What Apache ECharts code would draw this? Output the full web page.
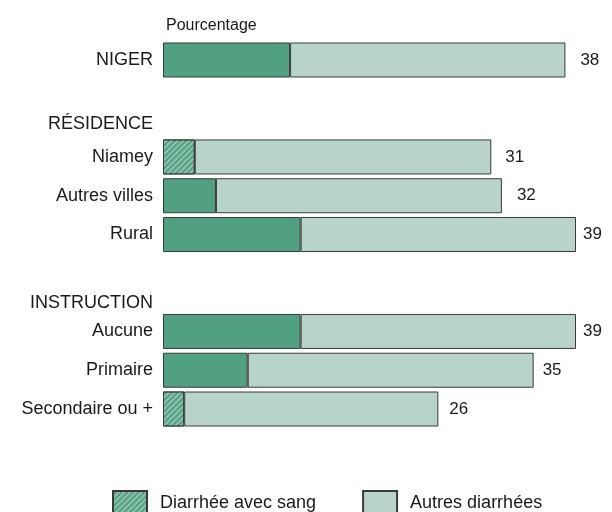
<!DOCTYPE html>
<html>
<head>
<meta charset="utf-8">
<script src="https://cdn.jsdelivr.net/npm/echarts@6/dist/echarts.min.js"></script>
<style>html,body{margin:0;padding:0;background:#fff;}#c{width:612px;height:512px;}</style>
</head>
<body>
<div id="c"></div>
<script>
// ---- data ----
const categories = ['NIGER', 'Niamey', 'Autres villes', 'Rural', 'Aucune', 'Primaire', 'Secondaire ou +'];
const groupHeaders = ['RÉSIDENCE', 'INSTRUCTION'];
const bloodyDiarrhea = [12, 3, 5, 13, 13, 8, 2];
const otherDiarrhea = [26, 28, 27, 26, 26, 27, 24];
const totalLabels = [38, 31, 32, 39, 39, 35, 26];
const hatchedCategories = ['Niamey', 'Secondaire ou +'];
const seriesNames = ['Diarrhée avec sang', 'Autres diarrhées'];

// ---- layout (row slots, spacing between label and bar end) ----
const rowSlots = ['NIGER', '_1', '_2', 'RÉSIDENCE', '_3', 'Niamey', '_4', 'Autres villes', '_5', 'Rural',
  '_6', '_7', 'INSTRUCTION', '_8', 'Aucune', '_9', 'Primaire', '_10', 'Secondaire ou +'];
const labelGap = [15, 14, 15, 7, 7, 9, 11];

const DARK = '#52a082';
const LIGHT = '#b8d4ca';
const BORDER = '#3a3a3a';
const FONT = 'Liberation Sans, Arial, sans-serif';
const hatch = {
  symbol: 'rect', symbolSize: 1, dashArrayX: [1, 0], dashArrayY: [1.5, 2],
  rotation: -Math.PI / 4, color: 'rgba(255,255,255,0.35)'
};

const darkData = rowSlots.map(s => {
  const i = categories.indexOf(s);
  if (i < 0) return '-';
  const item = { value: bloodyDiarrhea[i] };
  if (hatchedCategories.includes(s)) item.itemStyle = { decal: hatch };
  return item;
});
const lightData = rowSlots.map(s => {
  const i = categories.indexOf(s);
  if (i < 0) return '-';
  return { value: otherDiarrhea[i], label: { distance: labelGap[i], formatter: String(totalLabels[i]) } };
});

const chart = echarts.init(document.getElementById('c'), null, { renderer: 'canvas' });
chart.setOption({
  animation: false,
  backgroundColor: '#fff',
  textStyle: { fontFamily: FONT },
  title: {
    text: 'Pourcentage', left: 161, top: 13,
    textStyle: { fontSize: 16, fontWeight: 'normal', color: '#1a1a1a', fontFamily: FONT }
  },
  legend: {
    left: 107, top: 485, itemWidth: 34, itemHeight: 25, itemGap: 46,
    icon: 'rect',
    textStyle: { fontSize: 18, color: '#1a1a1a', fontFamily: FONT, padding: [0, 0, 0, 8] },
    data: [
      { name: seriesNames[0], itemStyle: { decal: hatch } },
      { name: seriesNames[1] }
    ]
  },
  grid: { left: 163, right: 25.4, top: 50.3, bottom: 93.3, containLabel: false },
  xAxis: { type: 'value', min: 0, max: 40, show: false },
  yAxis: {
    type: 'category', inverse: true, data: rowSlots,
    axisLine: { show: false }, axisTick: { show: false }, splitLine: { show: false },
    axisLabel: {
      margin: 10, fontSize: 18, color: '#1a1a1a', fontFamily: FONT, interval: 0,
      formatter: v => {
        if (v.charAt(0) === '_') return '';
        if (v === groupHeaders[0]) return '{h1|' + v + '}';
        if (v === groupHeaders[1]) return '{h2|' + v + '}';
        return v;
      },
      rich: {
        h1: { fontSize: 18, color: '#1a1a1a', fontFamily: FONT, padding: [12, 0, 0, 0] },
        h2: { fontSize: 18, color: '#1a1a1a', fontFamily: FONT, padding: [20, 0, 0, 0] }
      }
    }
  },
  series: [
    {
      name: seriesNames[0], type: 'bar', stack: 'all', barWidth: 35, clip: false,
      itemStyle: { color: DARK, borderColor: BORDER, borderWidth: 1 },
      data: darkData
    },
    {
      name: seriesNames[1], type: 'bar', stack: 'all', barWidth: 35, clip: false,
      itemStyle: { color: LIGHT, borderColor: BORDER, borderWidth: 1 },
      label: { show: true, position: 'right', fontSize: 17, color: '#1a1a1a', fontFamily: FONT },
      data: lightData
    }
  ]
});
</script>
</body>
</html>
